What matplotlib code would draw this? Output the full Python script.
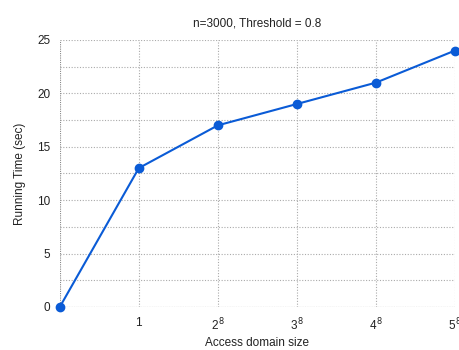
import numpy as np
import matplotlib.pyplot as plt
from matplotlib.ticker import MultipleLocator

plt.rcParams['font.family'] = ['Liberation Sans', 'DejaVu Sans']

# данные
x_pos = [0, 1, 2, 3, 4, 5]
running_time = [0, 13, 17, 19, 21, 24]
tick_pos = [1, 2, 3, 4, 5]
tick_labels = ['1', r'2$^{\,8}$', r'3$^{\,8}$', r'4$^{\,8}$', r'5$^{\,8}$']

fig = plt.figure(figsize=(4.6, 3.5), dpi=100)
ax = fig.add_axes([0.13, 0.123, 0.859, 0.763])

ax.plot(x_pos, running_time, color='#0a5bd6', lw=1.5, marker='o', ms=6, clip_on=False, zorder=3)

ax.set_xlim(0, 5)
ax.set_ylim(0, 25)
ax.set_xticks(tick_pos)
ax.set_xticklabels(tick_labels)
ax.yaxis.set_major_locator(MultipleLocator(5))
ax.yaxis.set_minor_locator(MultipleLocator(2.5))

for s in ax.spines.values():
    s.set_visible(False)
ax.grid(True, which='both', color='#aaaaaa', ls=(0, (1, 1.5)), lw=0.8)
ax.axvline(0, color='#888888', ls=(0, (1, 1)), lw=0.8)
ax.axhline(0, color='#888888', ls=(0, (1, 1)), lw=0.8)
ax.tick_params(which='both', length=0, labelsize=8.5, colors='#222222', pad=7)

ax.set_title('n=3000, Threshold = 0.8', fontsize=8.5, color='#222222', pad=10)
ax.set_xlabel('Access domain size', fontsize=8.5, color='#222222', labelpad=3)
ax.set_ylabel('Running Time (sec)', fontsize=8.5, color='#222222', labelpad=8)

fig.savefig('out.png', dpi=100)
